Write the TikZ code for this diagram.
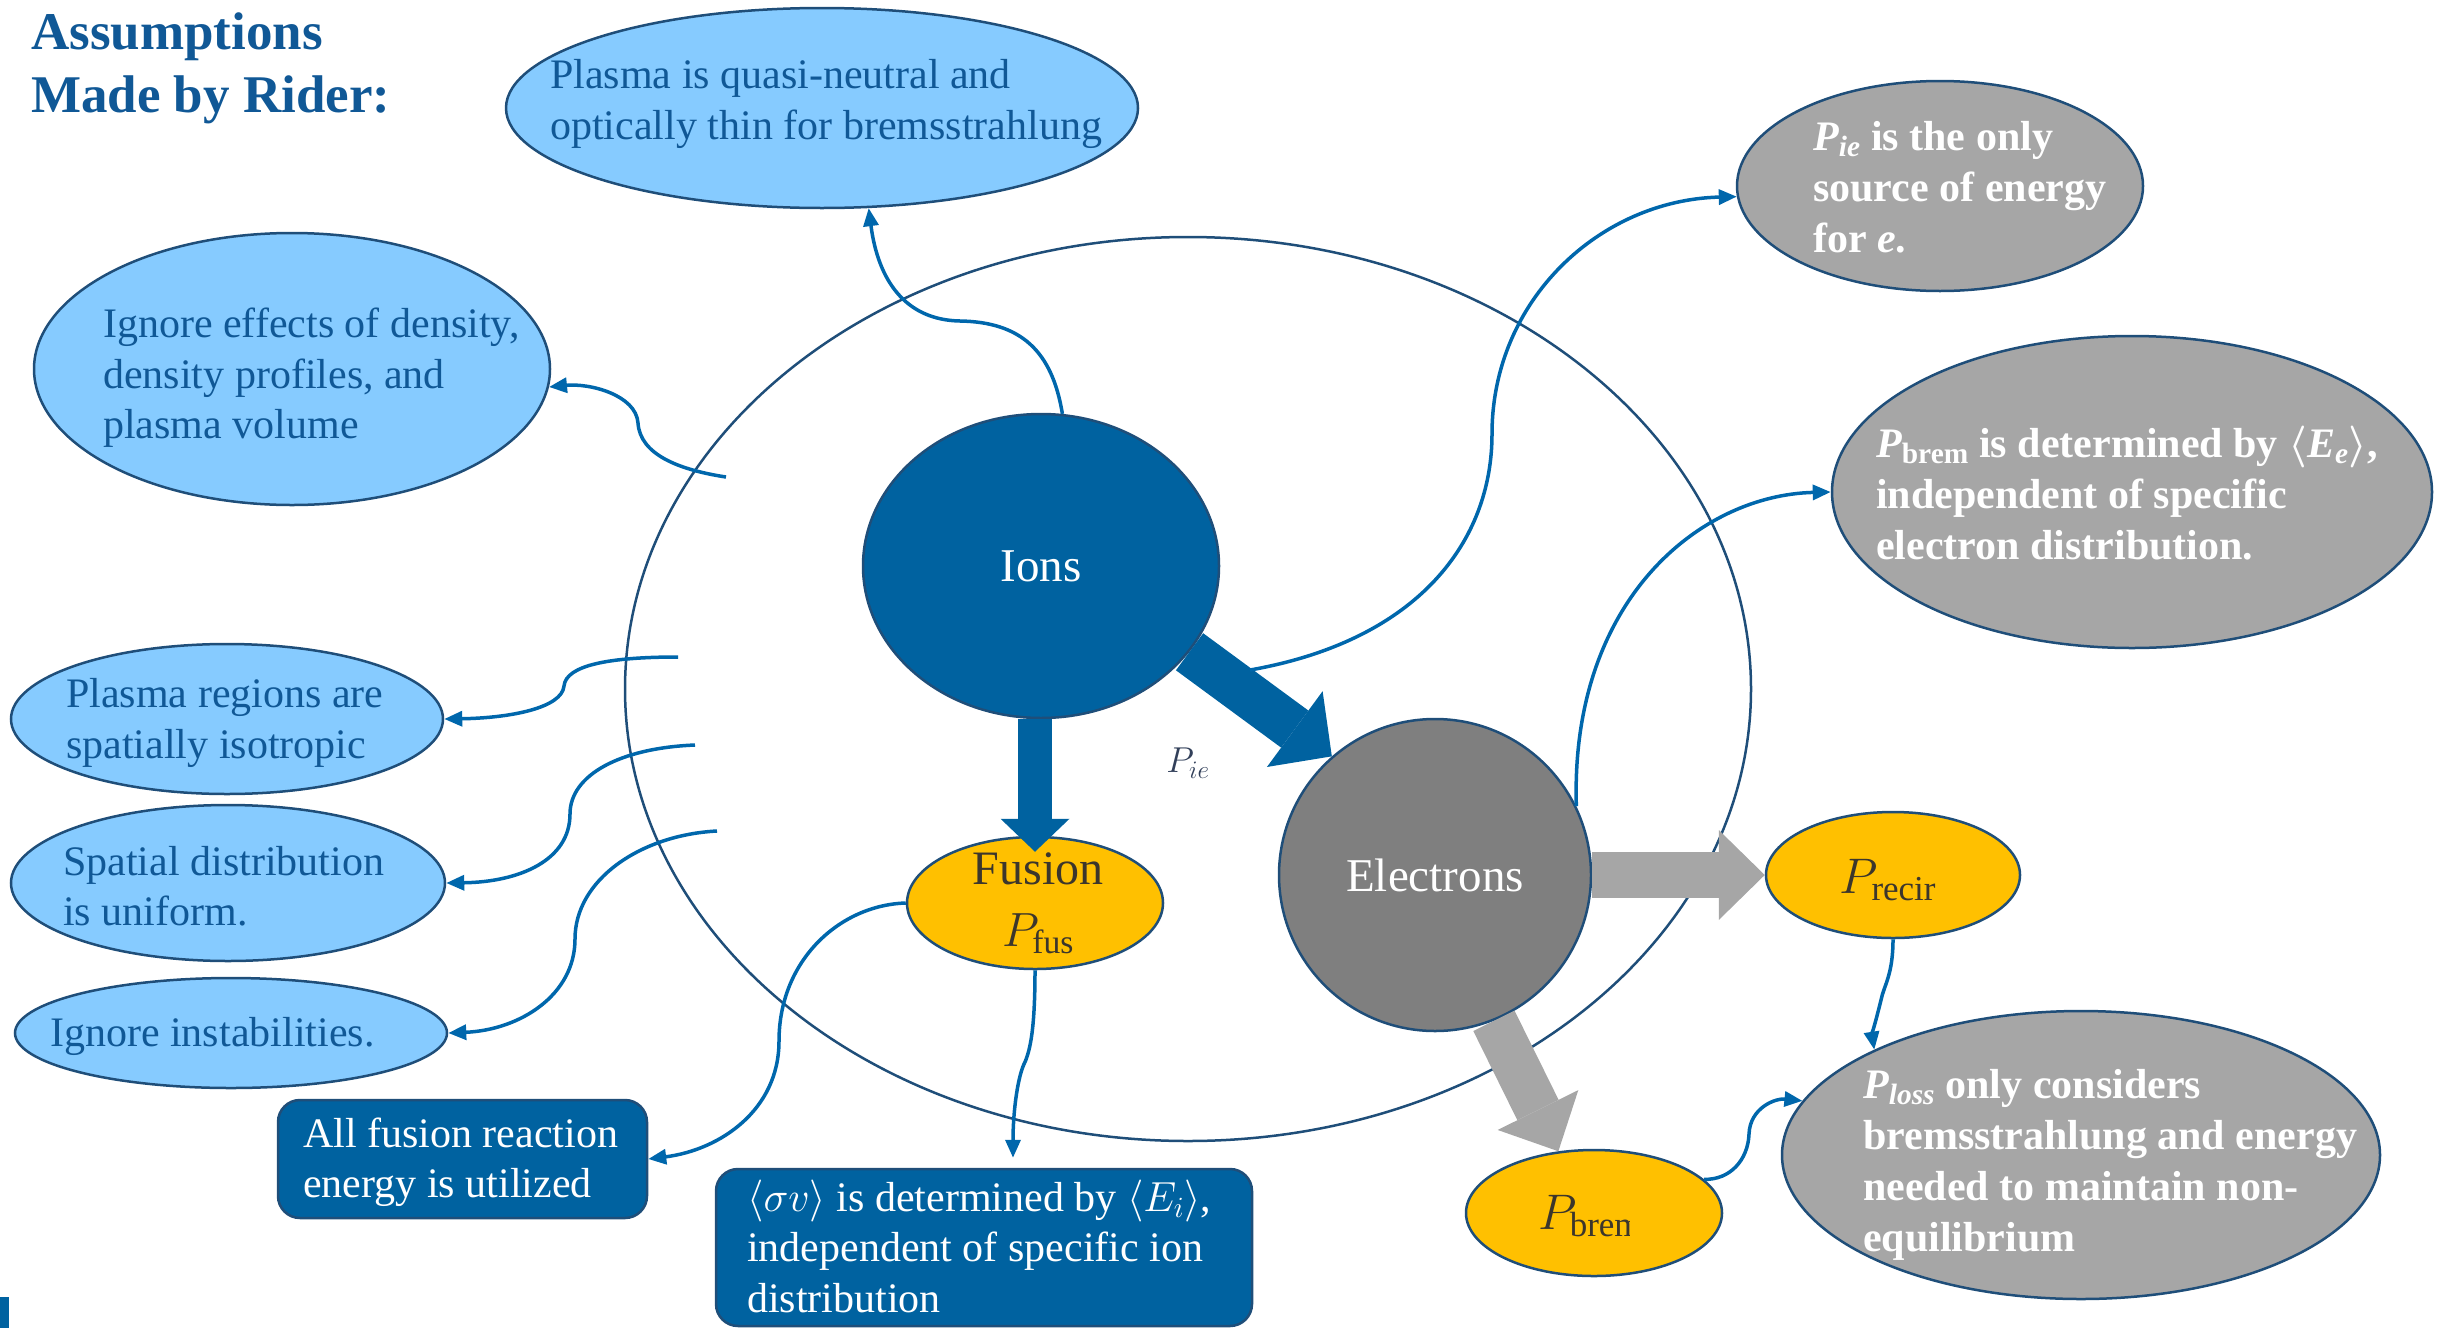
\documentclass[tikz,border=0pt]{standalone}
\usepackage{fix-cm}
\usepackage{amsmath}
\usepackage{fontspec}
\setmainfont{Liberation Serif}
\usetikzlibrary{arrows.meta,shapes.geometric,calc}
\definecolor{dkblue}{RGB}{0,98,160}
\definecolor{edgeblue}{RGB}{31,78,121}
\definecolor{lnblue}{RGB}{0,103,172}
\definecolor{ltblue}{RGB}{134,203,255}
\definecolor{txblue}{RGB}{16,88,150}
\definecolor{gryA}{RGB}{166,166,166}
\definecolor{gryB}{RGB}{127,127,127}
\definecolor{gold}{RGB}{255,192,0}
\definecolor{pietx}{RGB}{50,64,90}
\definecolor{darktx}{RGB}{60,54,44}
\begin{document}
\begin{tikzpicture}[x=1pt,y=-1pt,
  ell/.style={ellipse, draw=edgeblue, line width=2.5pt, inner sep=0pt},
  lbell/.style={ell, fill=ltblue},
  gyell/.style={ell, fill=gryA},
  gdell/.style={ell, fill=gold},
  bodytx/.style={align=left, inner sep=0pt, anchor=west, font=\fontsize{42}{50.5}\selectfont},
  bluetx/.style={bodytx, text=txblue},
  whitetx/.style={bodytx, text=white},
  boldtx/.style={bodytx, text=white, font=\fontsize{42}{51}\selectfont\bfseries\boldmath},
  conn/.style={draw=lnblue, line width=3.5pt, -{Triangle[length=18pt,width=15pt]}},
  rbox/.style={rectangle, rounded corners=22pt, draw=edgeblue, line width=2.5pt, fill=dkblue, inner sep=0pt},
  blkblue/.style={draw=dkblue, line width=46pt, -{Triangle[width=94pt,length=46pt,line width=0pt]}},
  blkblueV/.style={draw=dkblue, line width=34pt, -{Triangle[width=69pt,length=33pt,line width=0pt]}},
  blkgray/.style={draw=gryA, line width=46pt, -{Triangle[width=90pt,length=46pt,line width=0pt]}},
]
\useasboundingbox (0,0) rectangle (2451,1328);

% title
\node[align=left, inner sep=0pt, anchor=west, text=txblue, font=\fontsize{53}{63}\selectfont\bfseries] (title) at (31,68) {Assumptions\\Made by Rider:};

% vessel
\node[ell, minimum width=1126pt, minimum height=904pt] (vessel) at (1188,689) {};

% left assumptions
\node[lbell, minimum width=632pt, minimum height=200pt] (plasma) at (822,108) {};
\node[bluetx] (plasma-t) at (550,104) {Plasma is quasi-neutral and\\optically thin for bremsstrahlung};
\node[lbell, minimum width=516pt, minimum height=272pt] (dens) at (292,369) {};
\node[bluetx] (dens-t) at (103,378) {Ignore effects of density,\\density profiles, and\\plasma volume};
\node[lbell, minimum width=432pt, minimum height=150pt] (regions) at (227,719) {};
\node[bluetx] (regions-t) at (66,723) {Plasma regions are\\spatially isotropic};
\node[lbell, minimum width=434pt, minimum height=156pt] (spatial) at (228,883) {};
\node[bluetx] (spatial-t) at (63,886) {Spatial distribution\\is uniform.};
\node[lbell, minimum width=432pt, minimum height=110pt] (instab) at (231,1033) {};
\node[bluetx] (instab-t) at (50,1036) {Ignore instabilities.};

% boxes
\node[rbox, minimum width=369pt, minimum height=118pt] (allbox) at (462.5,1159) {};
\node[whitetx] (all-t) at (303,1162) {All fusion reaction\\energy is utilized};
\node[rbox, minimum width=536pt, minimum height=157pt] (sigbox) at (984,1247.5) {};
\node[whitetx] (sig-t) at (747,1246) {$\langle\sigma v\rangle$ is determined by $\langle E_i\rangle$,\\independent of specific ion\\distribution};

% right assumptions
\node[gyell, minimum width=406pt, minimum height=210pt] (pieonly) at (1940,186) {};
\node[boldtx] (pie-t) at (1813,187) {$\textit{P}_{\textit{ie}}$ is the only\\source of energy\\for \textit{e}.};
\node[gyell, minimum width=600pt, minimum height=312pt] (pbremE) at (2132,492) {};
\node[boldtx] (pbrem-t) at (1876,493) {$\textit{P}_{\text{brem}}$ is determined by $\langle\textit{E}_{\textit{e}}\rangle$,\\independent of specific\\electron distribution.};
\node[gyell, minimum width=598pt, minimum height=288pt] (ploss) at (2081,1155) {};
\node[boldtx] (ploss-t) at (1863,1165) {$\textit{P}_{\textit{loss}}$ only considers\\bremsstrahlung and energy\\needed to maintain non-\\equilibrium};

% core nodes
\node[ell, fill=dkblue, minimum width=356pt, minimum height=304pt] (ions) at (1041,566) {};
\node[text=white, inner sep=0pt, font=\fontsize{47}{56}\selectfont] (ions-t) at (1041,566) {Ions};
\node[ell, fill=gryB, minimum width=312pt, minimum height=312pt] (elec) at (1435,875) {};
\node[text=white, inner sep=0pt, font=\fontsize{47}{56}\selectfont] (elec-t) at (1435,875) {Electrons};
\node[gdell, minimum width=256pt, minimum height=132pt] (fusion) at (1035,903) {};
\node[align=center, inner sep=0pt, text=darktx, font=\fontsize{48}{62}\selectfont] (fusion-t) at (1038,903) {Fusion\\$P_{\text{fus}}$};
\node[gdell, minimum width=254pt, minimum height=126pt] (recir) at (1893,875) {};
\node[inner sep=0pt, text=darktx, font=\fontsize{50}{60}\selectfont] (recir-t) at (1888,880) {$P_{\text{recir}}$};
\node[gdell, minimum width=256pt, minimum height=126pt] (bren) at (1594,1213) {};
\begin{scope}
  \clip (1500,1150) rectangle (1629,1280);
  \node[anchor=west, inner sep=0pt, text=darktx, font=\fontsize{50}{60}\selectfont] (bren-t) at (1538,1216) {$P_{\text{brem}}$};
\end{scope}
\node[inner sep=0pt, text=pietx, font=\fontsize{36}{43}\selectfont] (pie-l) at (1188,763) {$P_{ie}$};

% block arrows
\draw[blkblueV, shorten >=-16pt] (fusion.north |- ions.south) -- (fusion.north);
\draw[blkblue] (ions.-30) -- (elec.131);
\draw[blkgray] (elec.east) -- (recir.west);
\draw[blkgray] (elec.-68) -- (bren.120);

% free ends
\coordinate (d-start) at (726,477);
\coordinate (r-start) at (678,657);
\coordinate (s-start) at (695,745);
\coordinate (i-start) at (717,831);
\coordinate (p-start) at (1250,670);

% connectors
\draw[conn] (ions.82) .. controls (1052,350) and (1020,322) .. (960,321) .. controls (905,320) and (878,280) .. (plasma.-65);
\draw[conn] (d-start) .. controls (680,470) and (640,455) .. (638,423) .. controls (636,395) and (590,383) .. (dens.-4);
\draw[conn] (r-start) .. controls (610,657) and (566,665) .. (564,686) .. controls (562,708) and (510,718) .. (regions.east);
\draw[conn] (s-start) .. controls (620,748) and (570,775) .. (570,814) .. controls (570,860) and (520,882) .. (spatial.east);
\draw[conn] (i-start) .. controls (640,835) and (575,880) .. (575,939) .. controls (575,995) and (520,1030) .. (instab.east);
\draw[conn] (fusion.west) .. controls (840,905) and (779,960) .. (779,1041) .. controls (779,1110) and (720,1150) .. (allbox.east);
\draw[conn, shorten >=10pt] (fusion.south) .. controls (1035,1030) and (1030,1050) .. (1025,1062) .. controls (1018,1075) and (1013,1110) .. ([xshift=29pt]sigbox.north);
\draw[conn] (p-start) .. controls (1420,640) and (1492,540) .. (1492,434) .. controls (1492,300) and (1600,200) .. (pieonly.183);
\draw[conn] (elec.26) .. controls (1570,600) and (1700,495) .. (pbremE.west);
\draw[conn] (recir.south) .. controls (1893,975) and (1884,985) .. (1881,1000) .. controls (1876,1020) and (1872,1035) .. (ploss.153);
\draw[conn] (bren.17) .. controls (1730,1180) and (1748,1160) .. (1749,1134) .. controls (1750,1108) and (1775,1098) .. (ploss.169);

% corner mark
\fill[dkblue] (0,1297) rectangle (9,1328);
\end{tikzpicture}
\end{document}
